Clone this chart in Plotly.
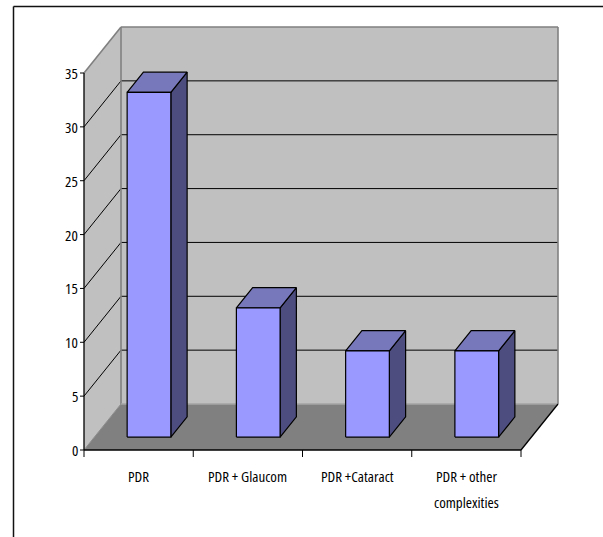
import plotly.graph_objects as go

# ---- data -------------------------------------------------------------
categories = ["PDR", "PDR + Glaucom", "PDR +Cataract", "PDR + other\ncomplexities"]
counts = [32, 12, 8, 8]
y_ticks = [0, 5, 10, 15, 20, 25, 30, 35]

# ---- oblique 3-D projection -------------------------------------------
Y_MAX = 35
N_CAT = len(categories)
DEPTH_DX = 0.3387      # horizontal shift of the back plane (category units)
DEPTH_DY = 4.27        # vertical shift of the back plane (value units)
BAR_HALF = 0.2         # half bar width (category units)
BAR_D0, BAR_D1 = 0.28, 0.72   # bar front / back depth fractions

# axis scale: 109.25 px per category, 10.771 px per unit
PX_X = 109.25
PX_Y = 377 / 35
W, H = 603, 537
X0_PX, Y0_PX = 84, 450
x_range = [-X0_PX / PX_X, (W - X0_PX) / PX_X]
y_range = [-(H - Y0_PX) / PX_Y, Y0_PX / PX_Y]


def proj(x, v, d):
    return x + d * DEPTH_DX, v + d * DEPTH_DY


def polys(list_of_pts):
    xs, ys = [], []
    for pts in list_of_pts:
        pp = [proj(*p) for p in pts]
        pp.append(pp[0])
        xs += [p[0] for p in pp] + [None]
        ys += [p[1] for p in pp] + [None]
    return xs, ys


def segs(list_of_pairs):
    xs, ys = [], []
    for a, b in list_of_pairs:
        pa, pb = proj(*a), proj(*b)
        xs += [pa[0], pb[0], None]
        ys += [pa[1], pb[1], None]
    return xs, ys


fig = go.Figure()


def add_fill(xs, ys, fill, line_color, lw):
    fig.add_trace(go.Scatter(x=xs, y=ys, mode="lines", fill="toself",
                             fillcolor=fill, line=dict(color=line_color, width=lw),
                             hoverinfo="skip", showlegend=False))


def add_lines(xs, ys, color, lw):
    fig.add_trace(go.Scatter(x=xs, y=ys, mode="lines",
                             line=dict(color=color, width=lw),
                             hoverinfo="skip", showlegend=False))


# walls and floor
WALL = "#C0C0C0"
FLOOR = "#808080"
add_fill(*polys([[(0, 0, 1), (N_CAT, 0, 1), (N_CAT, Y_MAX, 1), (0, Y_MAX, 1)]]), WALL, WALL, 0.1)
add_fill(*polys([[(0, 0, 0), (0, 0, 1), (0, Y_MAX, 1), (0, Y_MAX, 0)]]), WALL, WALL, 0.1)
add_fill(*polys([[(0, 0, 0), (N_CAT, 0, 0), (N_CAT, 0, 1), (0, 0, 1)]]), FLOOR, FLOOR, 0.1)

# gridlines on the side and back walls
grid = []
for v in y_ticks:
    if 0 < v < Y_MAX:
        grid.append(((0, v, 0), (0, v, 1)))
        grid.append(((0, v, 1), (N_CAT, v, 1)))
add_lines(*segs(grid), "#000000", 1)

# grey wall edges
add_lines(*segs([((0, Y_MAX, 0), (0, Y_MAX, 1)),
                 ((0, Y_MAX, 1), (N_CAT, Y_MAX, 1)),
                 ((N_CAT, Y_MAX, 1), (N_CAT, 0, 1)),
                 ((0, 0, 1), (0, Y_MAX, 1))]), "#808080", 1.6)
add_lines(*segs([((0, 0, 1), (N_CAT, 0, 1))]), "#A6A6A6", 1.3)
add_lines(*segs([((0, 0, 0), (0, 0, 1))]), "#8C8C8C", 1)

# bars: front, top and side faces
fronts, tops, sides = [], [], []
for i, v in enumerate(counts):
    c = i + 0.5
    l, r = c - BAR_HALF, c + BAR_HALF
    fronts.append([(l, 0, BAR_D0), (r, 0, BAR_D0), (r, v, BAR_D0), (l, v, BAR_D0)])
    tops.append([(l, v, BAR_D0), (r, v, BAR_D0), (r, v, BAR_D1), (l, v, BAR_D1)])
    sides.append([(r, 0, BAR_D0), (r, v, BAR_D0), (r, v, BAR_D1), (r, 0, BAR_D1)])
add_fill(*polys(sides), "#4D4D80", "#000000", 1.2)
add_fill(*polys(tops), "#7777BB", "#000000", 1.2)
add_fill(*polys(fronts), "#9999FF", "#000000", 1.2)

# front axis lines and floor edges
add_lines(*segs([((0, 0, 0), (0, Y_MAX, 0)),
                 ((0, 0, 0), (N_CAT, 0, 0)),
                 ((N_CAT, 0, 0), (N_CAT, 0, 1))]), "#000000", 1.3)

# tick marks
tick_x = 4 / PX_X
tick_y = 7 / PX_Y
ticks = [((-tick_x, v, 0), (0, v, 0)) for v in y_ticks]
ticks += [((k, 0, 0), (k, -tick_y, 0)) for k in range(N_CAT + 1)]
add_lines(*segs(ticks), "#000000", 1)

FONT = dict(family="Open Sans, Liberation Sans, Arial, sans-serif", size=15, color="#000000")


def narrow(s):
    return '<span style="font-stretch:condensed">%s</span>' % s


annotations = []
for v in y_ticks:
    annotations.append(dict(x=0, y=v, xref="x", yref="y", text=narrow(str(v)),
                            showarrow=False, xanchor="right", yanchor="middle",
                            xshift=-4, font=FONT))
for i, lab in enumerate(categories):
    for j, line in enumerate(lab.split("\n")):
        annotations.append(dict(x=i + 0.5, y=0, xref="x", yref="y", text=narrow(line),
                                showarrow=False, xanchor="center", yanchor="middle",
                                yshift=-26 - 26 * j, font=FONT))

# outer frame
shapes = [
    dict(type="line", xref="paper", yref="paper", x0=13.5 / W, x1=1,
         y0=1 - 6.5 / H, y1=1 - 6.5 / H, line=dict(color="#111111", width=1.5)),
    dict(type="line", xref="paper", yref="paper", x0=13.5 / W, x1=13.5 / W,
         y0=0, y1=1 - 6.5 / H, line=dict(color="#111111", width=1.5)),
]

fig.update_layout(
    width=W, height=H, autosize=False,
    margin=dict(l=0, r=0, t=0, b=0),
    paper_bgcolor="#FFFFFF", plot_bgcolor="#FFFFFF",
    xaxis=dict(range=x_range, visible=False, fixedrange=True),
    yaxis=dict(range=y_range, visible=False, fixedrange=True),
    annotations=annotations, shapes=shapes,
)

fig.write_html("out.html")
